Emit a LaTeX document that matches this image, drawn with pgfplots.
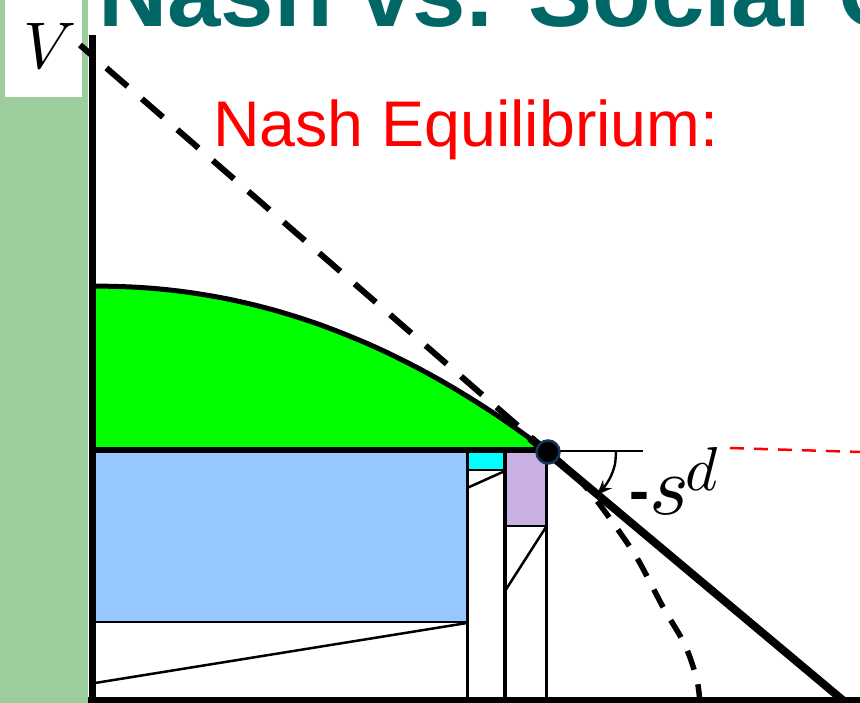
\documentclass[border=0pt]{standalone}
\usepackage{pgfplots}
\pgfplotsset{compat=1.18}
\usepackage{fontspec}
\newfontfamily\arial{Liberation Sans}
\usetikzlibrary{arrows.meta}
\definecolor{stripgreen}{RGB}{156,205,156}
\definecolor{titleteal}{RGB}{0,102,102}
\definecolor{areagreen}{RGB}{0,255,0}
\definecolor{lightblue}{RGB}{150,200,255}
\definecolor{lavender}{RGB}{200,176,228}
\definecolor{cyanfill}{RGB}{0,255,255}
\definecolor{navy}{RGB}{25,50,90}
\begin{document}
\begin{tikzpicture}
\useasboundingbox (0,0) rectangle (860pt,703pt);
\clip (0,0) rectangle (860pt,703pt);
\begin{axis}[at={(0,0)}, anchor=south west, scale only axis,
  width=860pt, height=703pt, xmin=0, xmax=860, ymin=0, ymax=703,
  y dir=reverse, hide axis, clip=true]
% left green strip and V box
\addplot[fill=stripgreen, draw=none] coordinates {(0,0) (88,0) (88,703) (0,703)} -- cycle;
\addplot[fill=white, draw=none] coordinates {(5,0) (82,0) (82,97) (5,97)} -- cycle;
% filled regions
\addplot[fill=areagreen, draw=none] coordinates {(92,286) (115,286.4) (137.6,287.3) (160,289) (183.2,291.6) (206,295) (228.8,299.2) (251.6,304.3) (274.4,310.2) (297,317) (320,324.7) (342.8,333.4) (365.6,342.8) (388.4,353.2) (411.2,364.5) (434,376.7) (456.8,389.9) (479.6,404) (502.4,419) (525.2,435) (548,452) (92,452)} -- cycle;
\addplot[fill=lightblue, draw=none] coordinates {(92,452) (467,452) (467,622) (92,622)} -- cycle;
\addplot[fill=cyanfill, draw=none] coordinates {(467,452) (505,452) (505,470) (467,470)} -- cycle;
\addplot[fill=lavender, draw=none] coordinates {(505,452) (546,452) (546,526) (505,526)} -- cycle;
% thin structure lines
\addplot[black, line width=2.5pt] coordinates {(92,622) (467,622)};
\addplot[black, line width=2.5pt] coordinates {(95,683) (467,623)};
\addplot[black, line width=3pt] coordinates {(467,452) (467,703)};
\addplot[black, line width=2pt] coordinates {(467,470) (505,470)};
\addplot[black, line width=2.5pt] coordinates {(467,488) (505,471)};
\addplot[black, line width=3.5pt] coordinates {(505,452) (505,703)};
\addplot[black, line width=2pt] coordinates {(505,526) (546,526)};
\addplot[black, line width=2.5pt] coordinates {(505,591) (546,527)};
\addplot[black, line width=3pt] coordinates {(546,452) (546,703)};
% curve (solid part)
\addplot[black, line width=5pt, smooth] coordinates {(92,286) (115,286.4) (137.6,287.3) (160,289) (183.2,291.6) (206,295) (228.8,299.2) (251.6,304.3) (274.4,310.2) (297,317) (320,324.7) (342.8,333.4) (365.6,342.8) (388.4,353.2) (411.2,364.5) (434,376.7) (456.8,389.9) (479.6,404) (502.4,419) (525.2,435) (548,452)};
% curve (dashed continuation)
\addplot[black, line width=5.5pt, smooth, dash pattern=on 20pt off 15pt] coordinates {(548,452) (570,470) (590,492) (611,520) (637,558) (663,607) (685,645) (697,680) (700,705)};
% horizontal line
\addplot[black, line width=6pt] coordinates {(92,450) (548,450)};
\addplot[black, line width=2pt] coordinates {(548,451) (643,451)};
% red dashed
\addplot[red, line width=2.5pt, dash pattern=on 14pt off 10pt] coordinates {(730,448) (860,452)};
% dashed straight line
\addplot[black, line width=6pt, dash pattern=on 28pt off 19pt, dash phase=12pt] coordinates {(80,45) (548,452)};
% solid straight line
\addplot[black, line width=8pt] coordinates {(530,438) (845,702)};
% axes
\addplot[black, line width=7pt] coordinates {(92,35) (92,703)};
\addplot[black, line width=7pt] coordinates {(88,700) (860,700)};
% angle arrow
\addplot[black, line width=2.4pt, smooth, -{Stealth[length=15pt,width=12pt]}] coordinates {(616,451) (615,464) (611,476) (605,486) (597,495)};
% equilibrium point
\addplot[only marks, mark=*, mark size=11.5pt, mark options={fill=black, draw=navy, line width=2.5pt}] coordinates {(548,452)};
% texts
\node[anchor=base west, inner sep=0pt, text=titleteal] at (axis cs:98,27) {\arial\bfseries\fontsize{96}{100}\selectfont Nash vs. Social Cost};
\node[anchor=base west, inner sep=0pt, text=red] at (axis cs:213,147) {\arial\fontsize{64.5}{67}\selectfont Nash Equilibrium:};
\node[anchor=center, inner sep=0pt, scale=6.6] at (axis cs:50,46) {$V$};
\node[anchor=base west, inner sep=0pt, scale=8.5] at (axis cs:628,514) {\raisebox{0.35pt}{\arial\bfseries\fontsize{7.06}{8}\selectfont -}$s$\kern-0.5pt\raisebox{2.8pt}{\scalebox{0.73}{$d$}}};
\end{axis}
\end{tikzpicture}
\end{document}
